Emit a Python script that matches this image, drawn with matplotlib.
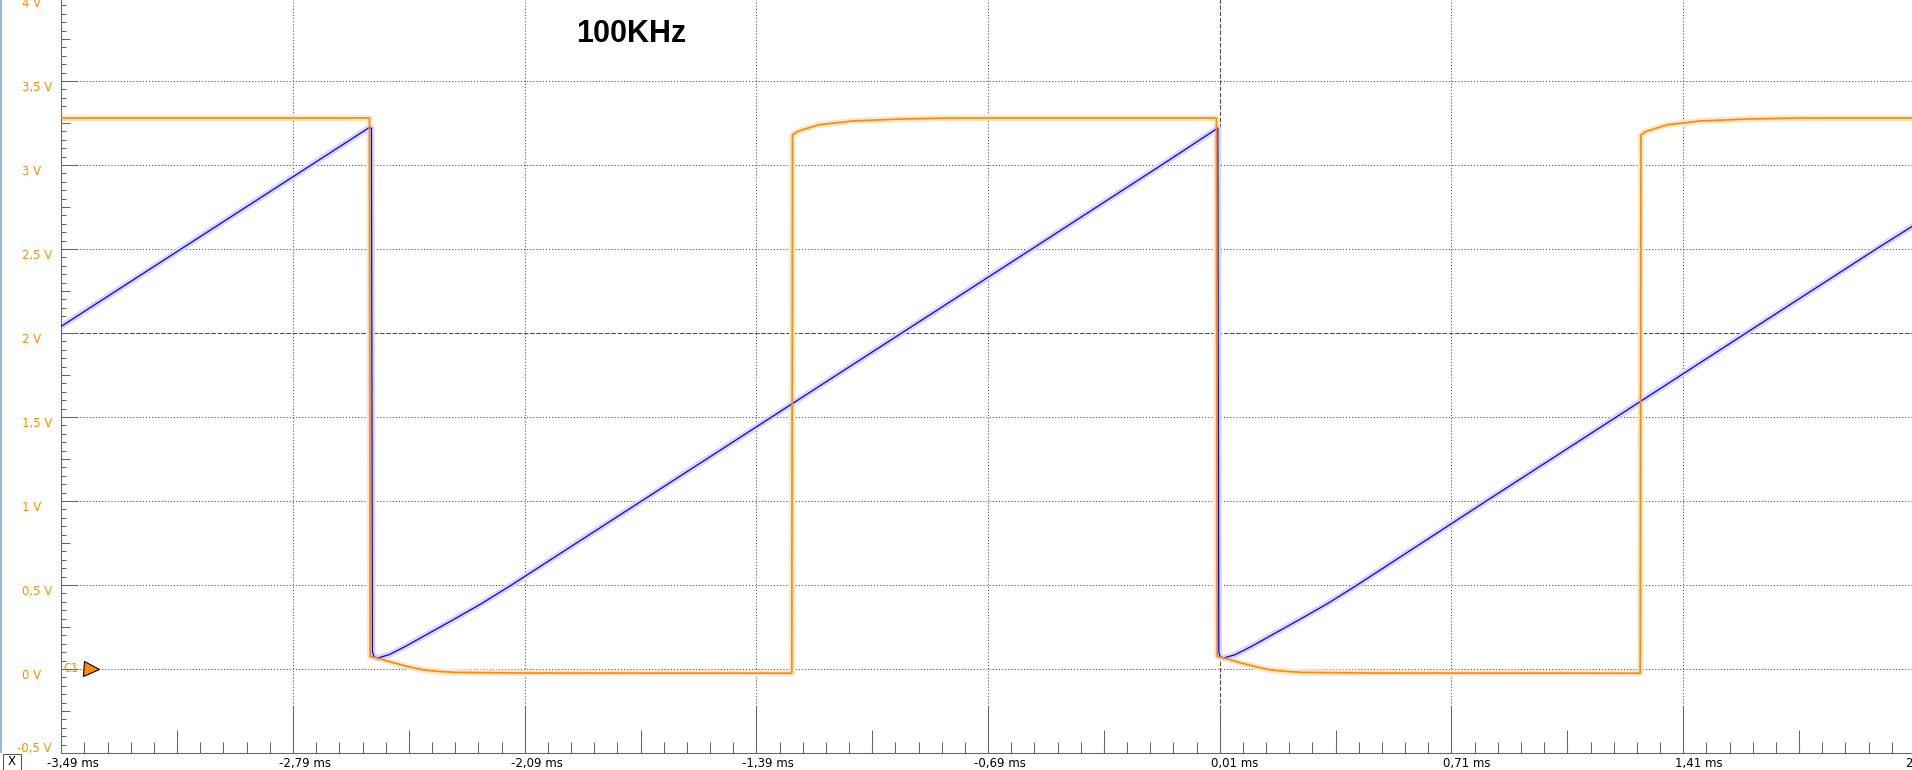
import matplotlib
matplotlib.use('Agg')
import matplotlib.pyplot as plt
import numpy as np
from matplotlib.ticker import FixedLocator
from matplotlib.transforms import ScaledTranslation, blended_transform_factory
from matplotlib.patches import Rectangle

# channel 1 (orange square wave), time in ms, volts
c1_t = [-3.49, -2.559, -2.557, -2.53, -2.50, -2.45, -2.40, -2.35, -2.30, -2.10,
        -1.283, -1.281, -1.265, -1.234, -1.20, -1.154, -1.10, -0.95, -0.80,
        0.000, 0.002, 0.029, 0.059, 0.109, 0.159, 0.209, 0.259, 0.459,
        1.280, 1.2825, 1.298, 1.330, 1.363, 1.41, 1.46, 1.61, 1.76, 2.11]
c1_v = [3.28, 3.28, 0.075, 0.062, 0.045, 0.018, -0.004, -0.014, -0.02, -0.024,
        -0.025, 3.18, 3.20, 3.22, 3.24, 3.25, 3.262, 3.274, 3.28,
        3.28, 0.075, 0.062, 0.045, 0.018, -0.004, -0.014, -0.02, -0.024,
        -0.025, 3.18, 3.20, 3.22, 3.24, 3.25, 3.262, 3.274, 3.28, 3.28]

# channel 2 (blue ramp)
c2_t = [-3.49, -2.562, -2.553, -2.550, -2.545, -2.533, -2.50, -2.45, -2.391, -2.30,
        -2.22, -2.130, -1.737, -1.344, -0.951, -0.558, -0.166, 0.004,
        0.007, 0.011, 0.023, 0.056, 0.106, 0.165, 0.256, 0.336, 0.425,
        0.815, 1.208, 1.600, 1.993, 2.11]
c2_v = [2.04, 3.22, 3.22, 0.10, 0.072, 0.066, 0.085, 0.135, 0.20, 0.30,
        0.39, 0.50, 1.00, 1.50, 2.00, 2.50, 3.00, 3.22,
        0.10, 0.072, 0.066, 0.085, 0.135, 0.20, 0.30, 0.39, 0.50,
        1.00, 1.50, 2.00, 2.50, 2.645]

x_ticks = [-3.49, -2.79, -2.09, -1.39, -0.69, 0.01, 0.71, 1.41, 2.11]
x_labels = ['-3,49 ms', '-2,79 ms', '-2,09 ms', '-1,39 ms', '-0,69 ms',
            '0,01 ms', '0,71 ms', '1,41 ms', '2,11 ms']
y_ticks = [-0.5, 0, 0.5, 1, 1.5, 2, 2.5, 3, 3.5, 4]
y_labels = ['-0,5 V', '0 V', '0,5 V', '1 V', '1,5 V', '2 V', '2,5 V', '3 V', '3,5 V', '4 V']

W, H, DPI = 1912, 770, 100
ORANGE = '#ff8c00'
TICK = '#666666'

fig = plt.figure(figsize=(W / DPI, H / DPI), dpi=DPI)
ax = fig.add_axes([61.3 / W, 17 / H, 1853.6 / W, 756 / H])
ax.set_xlim(-3.49, 2.11)
ax.set_ylim(-0.5, 4.0)

for s in ['top', 'right']:
    ax.spines[s].set_visible(False)
for s in ['left', 'bottom']:
    ax.spines[s].set_color(TICK)
    ax.spines[s].set_linewidth(0.75)

# grid
ax.grid(True, which='major', color='#4a4a4a', linestyle=(0, (1, 2)), linewidth=0.75, zorder=1)
ax.axhline(2, color='#4a4a4a', linestyle=(0, (4, 2)), linewidth=0.75, zorder=1)
ax.axvline(0.01, color='#4a4a4a', linestyle=(0, (4, 2)), linewidth=0.75, zorder=1)

# x ticks: numbers start a little left of the tick, minus sign hangs further left
ax.set_xticks(x_ticks, x_labels)
ax.xaxis.set_minor_locator(FixedLocator(np.round(np.arange(-3.49, 2.12, 0.07), 3)))
ax.tick_params(axis='x', which='major', direction='in', length=33.6, width=0.75,
               color=TICK, pad=2.9, labelsize=8.5, labelcolor='black')
ax.tick_params(axis='x', which='minor', direction='in', length=7.7, width=0.75, color=TICK)
ax.vlines(np.round(np.arange(-3.14, 2.11, 0.7), 3), 0, 22.7 / 756, color=TICK,
          linewidth=0.75, transform=ax.get_xaxis_transform(), zorder=5)
for lab in ax.get_xticklabels():
    dx = -14 if lab.get_text().startswith('-') else -8.4
    lab.set_horizontalalignment('left')
    lab.set_transform(lab.get_transform() + ScaledTranslation(dx / DPI, 0, fig.dpi_scale_trans))

# y ticks (labels drawn as text)
ax.set_yticks(y_ticks, [''] * len(y_ticks))
ax.yaxis.set_minor_locator(FixedLocator(np.round(np.arange(-0.5, 4.01, 0.05), 3)))
ax.tick_params(axis='y', which='major', direction='in', length=12, width=0.75, color=TICK)
ax.tick_params(axis='y', which='minor', direction='in', length=3.6, width=0.75, color=TICK)
ax.hlines(np.arange(-0.25, 4.0, 0.5), 0, 8.3 / 1853.6, color=TICK, linewidth=0.75,
          transform=ax.get_yaxis_transform(), zorder=5)

base = blended_transform_factory(fig.transFigure, ax.transData)
for v, lab in zip(y_ticks, y_labels):
    xp = 16.7 if lab.startswith('-') else 21.7
    dy = 1.3 if v == y_ticks[0] else -9.7
    tr = base + ScaledTranslation(0, dy / DPI, fig.dpi_scale_trans)
    ax.text(xp / W, v, lab, transform=tr, ha='left', va='baseline',
            color=ORANGE, fontsize=8.4, clip_on=False)

# traces
ax.plot(c1_t, c1_v, color='#fde7cf', linewidth=4.5, solid_joinstyle='round', zorder=2)
ax.plot(c2_t, c2_v, color='#d9d7f6', linewidth=4.5, solid_joinstyle='round', zorder=2)
ax.plot(c2_t, c2_v, color='#0000ff', linewidth=0.9, zorder=3)
ax.plot(c1_t, c1_v, color=ORANGE, linewidth=1.25, zorder=4)

# channel marker
ax.text(71 / W, 0, 'C1', transform=base, ha='center', va='center', color=ORANGE,
        fontsize=8.3, clip_on=False, zorder=6)
ax.plot([90.5 / W], [0], transform=base, marker='>', markersize=10.8,
        markerfacecolor=ORANGE, markeredgecolor='black', markeredgewidth=0.8,
        clip_on=False, zorder=6)

# window decorations
fig.patches.append(Rectangle((0, 17 / H), 2 / W, 1, transform=fig.transFigure,
                             facecolor='#9fb7d7', edgecolor='none'))
fig.patches.append(Rectangle((3 / W, 0.5 / H), 18 / W, 16 / H, transform=fig.transFigure,
                             facecolor='white', edgecolor='#555555', linewidth=0.75))
fig.text(12 / W, 8.5 / H, 'X', ha='center', va='center', fontsize=8.5)

fig.text(631 / W, 1 - 33.5 / H, '100KHz', ha='center', va='center', fontsize=22,
         fontweight='bold', family='Liberation Sans')

fig.savefig('out.png', dpi=DPI)
